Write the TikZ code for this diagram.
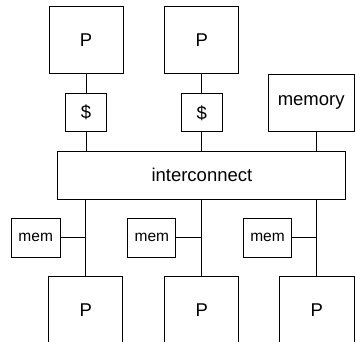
\documentclass[tikz,border=0pt]{standalone}
\usepackage{fontspec}
\setmainfont{Liberation Sans}
\begin{document}
\begin{tikzpicture}[x=1pt,y=-1pt,
  box/.style={draw,line width=0.9pt,inner sep=0pt,font=\fontsize{18.5}{22}\selectfont},
  smallbox/.style={box,font=\fontsize{15.5}{18}\selectfont},
  wire/.style={line width=0.9pt}]
\useasboundingbox (0,0) rectangle (355,341);
\node[box,minimum width=74pt,minimum height=67.5pt] (pt1) at (86,39.8) {P};
\node[box,minimum width=74pt,minimum height=67.5pt] (pt2) at (201.8,39.8) {P};
\node[box,minimum width=41pt,minimum height=38pt] (c1) at (86,112.3) {\$};
\node[box,minimum width=41pt,minimum height=38pt] (c2) at (201.8,112.8) {\$};
\node[box,minimum width=85.5pt,minimum height=57.5pt] (mm) at (311.2,102.8) {memory};
\node[box,minimum width=288pt,minimum height=48.3pt] (ic) at (201.9,175.2) {interconnect};
\node[smallbox,minimum width=48.5pt,minimum height=39pt] (m1) at (35.7,237.8) {mem};
\node[smallbox,minimum width=48pt,minimum height=39pt] (m2) at (151.9,237.8) {mem};
\node[smallbox,minimum width=48.4pt,minimum height=39pt] (m3) at (267.5,237.8) {mem};
\node[box,minimum width=74pt,minimum height=68pt] (pb1) at (85.8,310) {P};
\node[box,minimum width=74pt,minimum height=68pt] (pb2) at (201.8,310) {P};
\node[box,minimum width=74.7pt,minimum height=68pt] (pb3) at (316.9,310) {P};
\draw[wire] (pt1.south) -- (c1.north);
\draw[wire] (c1.south) -- (c1.south |- ic.north);
\draw[wire] (pt2.south) -- (c2.north);
\draw[wire] (c2.south) -- (c2.south |- ic.north);
\draw[wire] (mm.south -| pb3.north) -- (ic.north -| pb3.north);
\draw[wire] (ic.south -| pb1.north) -- (pb1.north);
\draw[wire] (ic.south -| pb2.north) -- (pb2.north);
\draw[wire] (ic.south -| pb3.north) -- (pb3.north);
\draw[wire] (m1.east) -- (m1.east -| pb1.north);
\draw[wire] (m2.east) -- (m2.east -| pb2.north);
\draw[wire] (m3.east) -- (m3.east -| pb3.north);
\end{tikzpicture}
\end{document}
